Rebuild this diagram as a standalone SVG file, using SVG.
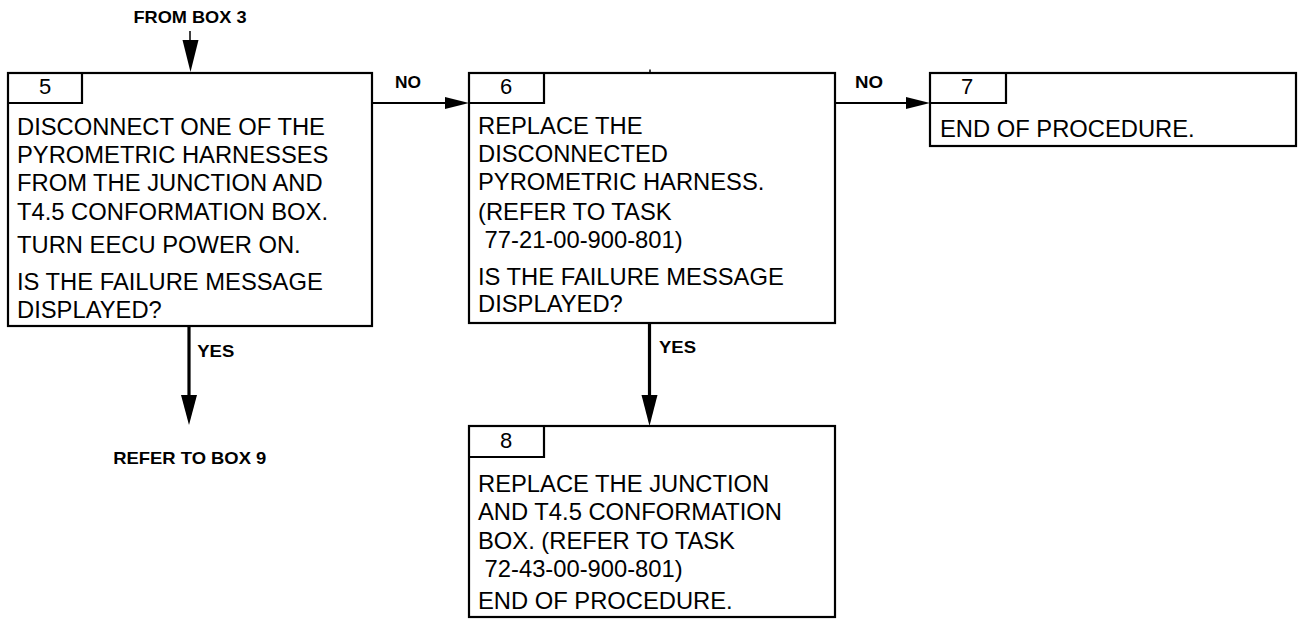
<svg xmlns="http://www.w3.org/2000/svg" width="1302" height="619" viewBox="0 0 1302 619">
<defs>
<style>
.box{fill:#fff;stroke:#000;stroke-width:2.2}
.tab{fill:none;stroke:#000;stroke-width:2.2}
.num{font-family:"Liberation Sans",Arial,sans-serif;font-size:22px;fill:#000;text-anchor:middle}
.txt{font-family:"Liberation Sans",Arial,sans-serif;font-size:23.75px;fill:#000}
.lbl{font-family:"Liberation Sans",Arial,sans-serif;font-size:16.5px;font-weight:bold;fill:#000}
.line{stroke:#000;fill:none}
.head{fill:#000;stroke:none}
</style>
</defs>
<rect width="1302" height="619" fill="#fff"/>

<g id="connectors">
  <!-- from box 3 -->
  <line class="line" x1="190" y1="31" x2="190" y2="42" stroke-width="1.5"/>
  <polygon class="head" points="182.5,40 198.5,40 190.5,72"/>
  <text class="lbl" x="133.5" y="23.3" textLength="113" lengthAdjust="spacingAndGlyphs">FROM BOX 3</text>
  <!-- 5 -> 6 NO -->
  <line class="line" x1="372" y1="103" x2="447" y2="103" stroke-width="2"/>
  <polygon class="head" points="445,97 445,109 469,103"/>
  <text class="lbl" x="395" y="88" textLength="26" lengthAdjust="spacingAndGlyphs">NO</text>
  <!-- 6 -> 7 NO -->
  <line class="line" x1="835" y1="103" x2="908" y2="103" stroke-width="2"/>
  <polygon class="head" points="906,97 906,109 930,103"/>
  <text class="lbl" x="855" y="88" textLength="28" lengthAdjust="spacingAndGlyphs">NO</text>
  <!-- 5 YES -> box 9 -->
  <line class="line" x1="189" y1="326" x2="189" y2="398" stroke-width="3.2"/>
  <polygon class="head" points="181,395 197,395 189,425"/>
  <text class="lbl" x="197.3" y="356.7" textLength="37" lengthAdjust="spacingAndGlyphs">YES</text>
  <text class="lbl" x="113.3" y="464" textLength="153" lengthAdjust="spacingAndGlyphs">REFER TO BOX 9</text>
  <!-- 6 YES -> 8 -->
  <line class="line" x1="649.5" y1="323" x2="649.5" y2="398" stroke-width="3.2"/>
  <polygon class="head" points="641.5,395 657.5,395 649.5,426"/>
  <text class="lbl" x="659" y="353" textLength="37" lengthAdjust="spacingAndGlyphs">YES</text>
  <line class="line" x1="650" y1="69.5" x2="650" y2="72" stroke-width="1.5"/>
</g>

<g id="box5">
  <rect class="box" x="8" y="73" width="364" height="253"/>
  <polyline class="tab" points="8,103 82,103 82,73"/>
  <text class="num" x="45" y="94">5</text>
  <text class="txt" x="17" y="134.5">DISCONNECT ONE OF THE</text>
  <text class="txt" x="17" y="162.5">PYROMETRIC HARNESSES</text>
  <text class="txt" x="17" y="190.5">FROM THE JUNCTION AND</text>
  <text class="txt" x="17" y="220">T4.5 CONFORMATION BOX.</text>
  <text class="txt" x="17" y="253">TURN EECU POWER ON.</text>
  <text class="txt" x="17" y="290">IS THE FAILURE MESSAGE</text>
  <text class="txt" x="17" y="318">DISPLAYED?</text>
</g>

<g id="box6">
  <rect class="box" x="469" y="73" width="366" height="250"/>
  <polyline class="tab" points="469,103 544,103 544,73"/>
  <text class="num" x="506" y="94">6</text>
  <text class="txt" x="478" y="134">REPLACE THE</text>
  <text class="txt" x="478" y="162">DISCONNECTED</text>
  <text class="txt" x="478" y="190">PYROMETRIC HARNESS.</text>
  <text class="txt" x="478" y="220">(REFER TO TASK</text>
  <text class="txt" x="478" y="248.3" xml:space="preserve"> 77-21-00-900-801)</text>
  <text class="txt" x="478" y="285">IS THE FAILURE MESSAGE</text>
  <text class="txt" x="478" y="312">DISPLAYED?</text>
</g>

<g id="box7">
  <rect class="box" x="930" y="73" width="366" height="73"/>
  <polyline class="tab" points="930,103 1006,103 1006,73"/>
  <text class="num" x="967" y="94">7</text>
  <text class="txt" x="940" y="137">END OF PROCEDURE.</text>
</g>

<g id="box8">
  <rect class="box" x="469" y="426" width="366" height="191"/>
  <polyline class="tab" points="469,457 544,457 544,426"/>
  <text class="num" x="506" y="448">8</text>
  <text class="txt" x="478" y="492">REPLACE THE JUNCTION</text>
  <text class="txt" x="478" y="520">AND T4.5 CONFORMATION</text>
  <text class="txt" x="478" y="548.5">BOX. (REFER TO TASK</text>
  <text class="txt" x="478" y="577" xml:space="preserve"> 72-43-00-900-801)</text>
  <text class="txt" x="478" y="608.5">END OF PROCEDURE.</text>
</g>
</svg>
